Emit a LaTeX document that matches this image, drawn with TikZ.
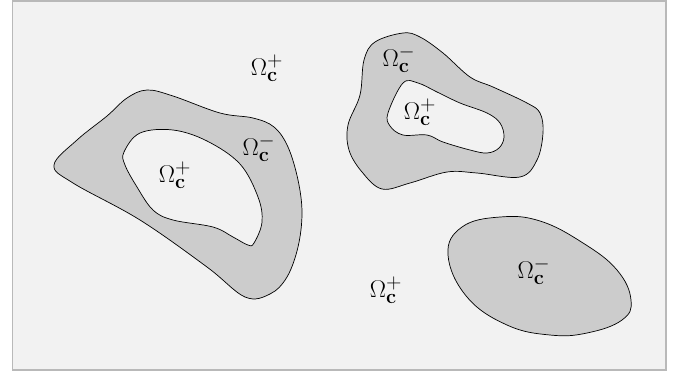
\documentclass[tikz,border=0pt]{standalone}
\usepackage{amsmath}
\begin{document}
\begin{tikzpicture}[x=0.025cm, y=-0.025cm,
    region/.style={fill=gray!40, draw=black, line width=0.5pt},
    hole/.style={fill=gray!10, draw=black, line width=0.5pt},
    lab/.style={font=\fontsize{19}{21}\selectfont, inner sep=0pt}]

    \useasboundingbox (0,0) rectangle (688,377);

    % Background frame
    \filldraw[fill=gray!10, draw=gray!55, line width=0.8pt] (12.5,1) rectangle (666,370);

    % Left region with a hole
    \filldraw[region] plot[smooth cycle, tension=0.6] coordinates {
        (54,165) (77,140) (107,116) (127,98) (147,90) (173,96) (220,113)
        (253,118) (274,127) (288,147) (298,180) (302,213) (298,247)
        (287,277) (270,294) (245,297) (207,267) (140,220) (73,183)};
    \filldraw[hole] plot[smooth cycle, tension=0.6] coordinates {
        (124,152) (140,133) (173,130) (207,141) (240,164) (258,197)
        (262,222) (254,243) (248,245) (233,237) (213,227) (173,220)
        (153,210) (137,187) (125,165)};

    % Top region with a hole
    \filldraw[region] plot[smooth cycle, tension=0.6] coordinates {
        (403,33) (375,42) (364,60) (360,95) (348,125) (349,150)
        (362,172) (382,189) (410,183) (447,172) (477,173) (520,177)
        (537,160) (543,133) (540,113) (527,103) (493,87) (470,77)
        (443,53) (420,37)};
    \filldraw[hole] plot[smooth cycle, tension=0.6] coordinates {
        (388,113) (403,83) (418,83) (437,92) (460,103) (487,113)
        (500,123) (504,137) (499,148) (487,153) (470,150) (443,142)
        (427,135) (403,135) (390,126)};

    % Bottom right region
    \filldraw[region] plot[smooth cycle, tension=0.7] coordinates {
        (448,255) (462,227) (500,217) (540,221) (583,243) (617,270)
        (631,300) (622,320) (587,333) (550,335) (507,325) (467,297)};

    % Labels
    \node[lab] (outA)  at (267,68)  {$\Omega_{\mathbf{c}}^{+}$};
    \node[lab] (outB)  at (386,290) {$\Omega_{\mathbf{c}}^{+}$};
    \node[lab] (ringL) at (259,148) {$\Omega_{\mathbf{c}}^{-}$};
    \node[lab] (holeL) at (175,175) {$\Omega_{\mathbf{c}}^{+}$};
    \node[lab] (ringT) at (399,59)  {$\Omega_{\mathbf{c}}^{-}$};
    \node[lab] (holeT) at (420,112) {$\Omega_{\mathbf{c}}^{+}$};
    \node[lab] (blob)  at (534,271) {$\Omega_{\mathbf{c}}^{-}$};

\end{tikzpicture}
\end{document}
